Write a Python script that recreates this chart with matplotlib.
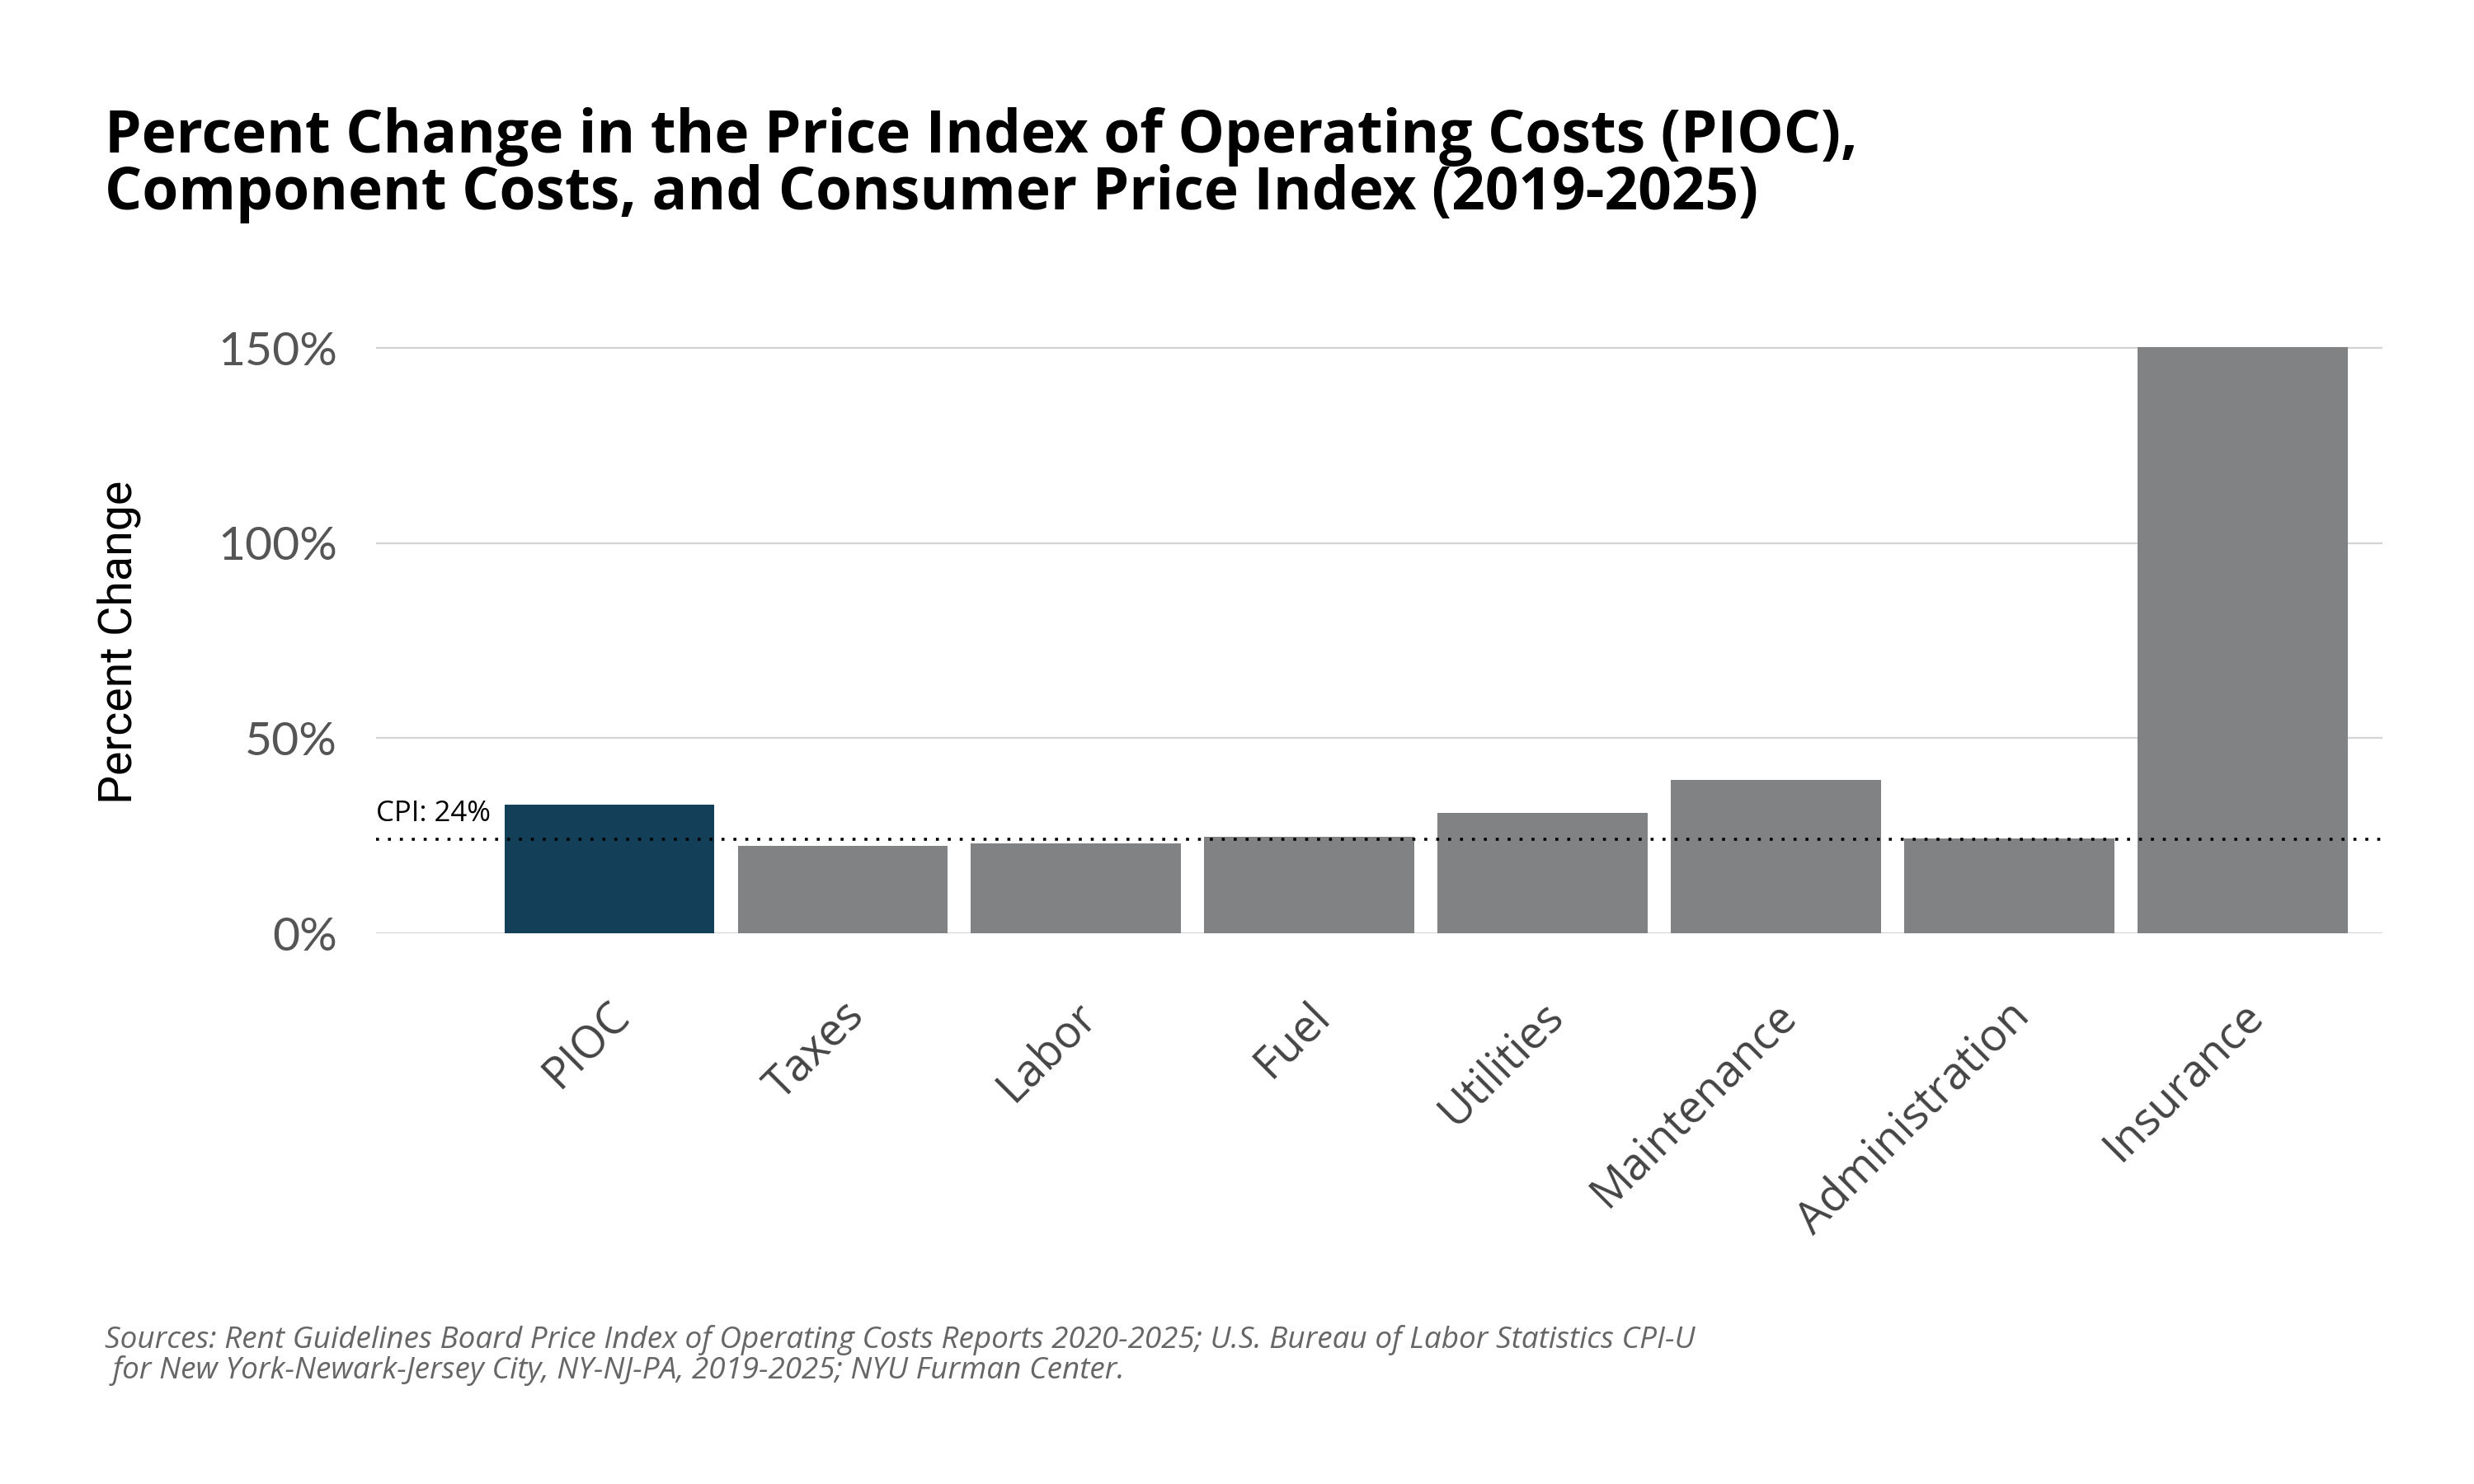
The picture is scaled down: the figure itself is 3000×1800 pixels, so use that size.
import matplotlib
matplotlib.use("Agg")
import matplotlib.pyplot as plt

# данные
categories = ["PIOC", "Taxes", "Labor", "Fuel", "Utilities", "Maintenance",
              "Administration", "Insurance"]
pct_change = [32.9, 22.3, 23.0, 24.7, 30.8, 39.2, 24.4, 150.3]
cpi_value = 24
y_ticks = [0, 50, 100, 150]
y_tick_labels = ["0%", "50%", "100%", "150%"]

title = ("Percent Change in the Price Index of Operating Costs (PIOC),\n"
         "Component Costs, and Consumer Price Index (2019-2025)")
source = ("Sources: Rent Guidelines Board Price Index of Operating Costs Reports 2020-2025; "
          "U.S. Bureau of Labor Statistics CPI-U\n"
          " for New York-Newark-Jersey City, NY-NJ-PA, 2019-2025; NYU Furman Center.")

bar_colors = ["#143f59"] + ["#818284"] * (len(categories) - 1)

fig = plt.figure(figsize=(15, 9), dpi=200)
ax = fig.add_axes([0.152, 0.3711, 0.811, 0.4207])

x = list(range(len(categories)))
ax.bar(x, pct_change, width=0.9, color=bar_colors, zorder=2)

# линия CPI
ax.axhline(cpi_value, color="black", linestyle=(0, (1, 3)), linewidth=1.3, zorder=3)
ax.text(-1.0, cpi_value + 3, f"CPI: {cpi_value}%", fontsize=12.5, family="Open Sans",
        color="black", ha="left", va="bottom")

ax.set_xlim(-1.0, 7.6)
ax.set_ylim(0, 160)
ax.set_yticks(y_ticks)
ax.set_yticklabels(y_tick_labels, fontsize=20.5, family="Lato", color="#555555")
ax.yaxis.grid(True, color="#d4d4d4", linewidth=0.8, zorder=0)
ax.set_axisbelow(True)

# подписи чуть сдвинуты вправо, как в оригинале
label_shift = 0.128
ax.set_xticks([i + label_shift for i in x])
ax.set_xticklabels(categories, rotation=45, ha="right", fontsize=19.5,
                   family="Open Sans", color="#444444")

ax.tick_params(axis="both", length=0)
ax.tick_params(axis="x", pad=26)
ax.tick_params(axis="y", pad=17)
for side in ["top", "right", "left", "bottom"]:
    ax.spines[side].set_visible(False)

ax.set_ylabel("Percent Change", fontsize=20, family="Roboto", color="black")
ax.yaxis.set_label_coords(-0.117, 0.466)

fig.text(0.0423, 0.928, title, fontsize=25.6, fontweight="bold", family="Open Sans",
         color="black", ha="left", va="top", linespacing=0.95)
fig.text(0.0423, 0.107, source, fontsize=13.3, style="italic", family="Open Sans",
         color="#666666", ha="left", va="top", linespacing=1.0)

fig.savefig("out.png", dpi=200, facecolor="white")
